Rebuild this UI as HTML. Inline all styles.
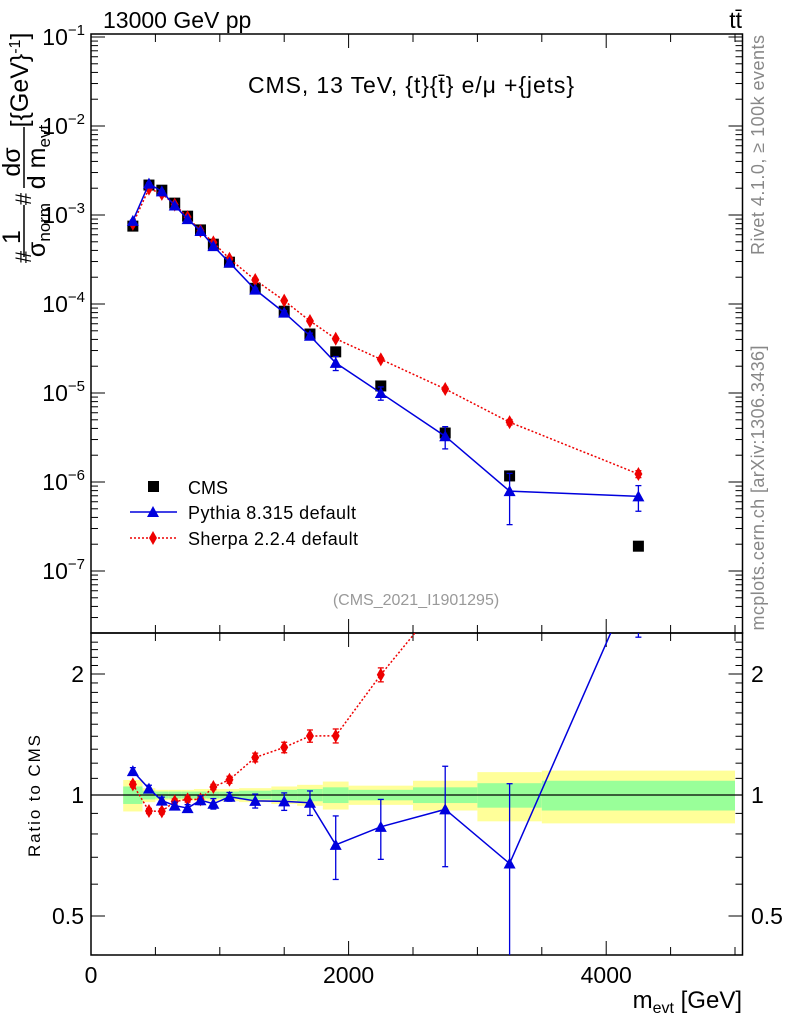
<!DOCTYPE html>
<html><head><meta charset="utf-8"><style>
html,body{margin:0;padding:0;background:#fff;}
svg{display:block;font-family:"Liberation Sans",sans-serif;}
</style></head><body>
<svg id="chart" width="786" height="1024" viewBox="0 0 786 1024" xmlns="http://www.w3.org/2000/svg">
<g id="bands"></g>
<g id="grid"></g>
<g id="series"></g>
<text x="103" y="28" font-size="23">13000 GeV pp</text>
<text x="742" y="28" font-size="23" text-anchor="end">tt̄</text>
<text x="411" y="93" font-size="23" text-anchor="middle" textLength="326">CMS, 13 TeV, {t}{t̄} e/μ +{jets}</text>
<text x="416" y="605" font-size="16" fill="#999" text-anchor="middle">(CMS_2021_I1901295)</text>
<text transform="translate(764,145) rotate(-90)" font-size="18" fill="#888" text-anchor="middle" textLength="220">Rivet 4.1.0, ≥ 100k events</text>
<text transform="translate(764,488) rotate(-90)" font-size="18" fill="#888" text-anchor="middle" textLength="285">mcplots.cern.ch [arXiv:1306.3436]</text>
<g id="ytitle"></g>
<g>
<g><rect x="148" y="481" width="11" height="11" fill="#000"/><text x="188" y="494" font-size="18">CMS</text></g>
<g><line x1="130" y1="512" x2="177" y2="512" stroke="#0000dd" stroke-width="1.5"/><polygon points="153,506 159,517 147,517" fill="#0000dd"/><text x="188" y="519" font-size="18" textLength="168">Pythia 8.315 default</text></g>
<g><line x1="130" y1="538" x2="177" y2="538" stroke="#ee0000" stroke-width="1.5" stroke-dasharray="2,2"/><polygon points="153,531 157,538 153,545 149,538" fill="#ee0000"/><text x="188" y="545" font-size="18" textLength="170">Sherpa 2.2.4 default</text></g>
</g>
<text transform="translate(40,796) rotate(-90)" font-size="17" text-anchor="middle" textLength="122">Ratio to CMS</text>
<text x="742" y="1008" font-size="24" text-anchor="end">m<tspan font-size="16" dy="5">evt</tspan><tspan dy="-5"> [GeV]</tspan></text>
</svg>
<script>
const binEdges=[250,400,500,600,700,800,900,1000,1150,1400,1600,1800,2000,2500,3000,3500,5000];
const cmsValues=[7.5e-4,2.17e-3,1.9e-3,1.36e-3,9.7e-4,6.8e-4,4.7e-4,2.95e-4,1.5e-4,8.3e-5,4.6e-5,2.9e-5,1.2e-5,3.55e-6,1.17e-6,1.9e-7];
const pythiaValues=[8.6e-4,2.25e-3,1.84e-3,1.28e-3,9.0e-4,6.6e-4,4.47e-4,2.92e-4,1.45e-4,8.0e-5,4.4e-5,2.18e-5,1.0e-5,3.27e-6,7.9e-7,6.9e-7];
const pythiaRelErr=[0.02,0.02,0.02,0.02,0.02,0.025,0.03,0.025,0.04,0.05,0.07,0.18,0.17,0.28,0.58,0.32];
const sherpaValues=[7.97e-4,1.98e-3,1.73e-3,1.31e-3,9.46e-4,6.63e-4,4.92e-4,3.22e-4,1.86e-4,1.09e-4,6.45e-5,4.07e-5,2.39e-5,1.11e-5,4.7e-6,1.23e-6];
const sherpaRelErr=[0.015,0.015,0.015,0.015,0.015,0.015,0.015,0.02,0.025,0.03,0.035,0.04,0.04,0.05,0.07,0.09];
const bandYellow=[0.09,0.04,0.03,0.03,0.03,0.035,0.035,0.035,0.04,0.05,0.06,0.08,0.055,0.085,0.14,0.15];
const bandGreen=[0.05,0.025,0.02,0.02,0.02,0.02,0.02,0.02,0.025,0.03,0.035,0.045,0.03,0.045,0.07,0.085];
const xTicks=[0,2000,4000];
const mainYTicks=[-1,-2,-3,-4,-5,-6,-7];
const ratioTicks=[0.5,1,2];

const NS="http://www.w3.org/2000/svg";
const L=91,R=742.5,T=34,MB=633,RB=955;
const xs=v=>L+v*0.1288;
const ym=v=>37+(-1-Math.log10(v))*89;
const yr=v=>795-Math.log2(v)*121;
function mk(tag,attrs,parent){const e=document.createElementNS(NS,tag);for(const k in attrs)e.setAttribute(k,attrs[k]);parent.appendChild(e);return e;}
const grid=document.getElementById('grid'),series=document.getElementById('series'),bands=document.getElementById('bands');

for(let i=0;i<bandYellow.length;i++){
  const x1=xs(binEdges[i]),x2=xs(binEdges[i+1]);
  const y=mk('rect',{x:x1,y:yr(1+bandYellow[i]),width:x2-x1,height:yr(1-bandYellow[i])-yr(1+bandYellow[i]),fill:'#ffff99'},bands);
  
  
  const g=mk('rect',{x:x1,y:yr(1+bandGreen[i]),width:x2-x1,height:yr(1-bandGreen[i])-yr(1+bandGreen[i]),fill:'#99ff99'},bands);
  
  
}
mk('rect',{x:L,y:T,width:R-L,height:MB-T,fill:'none',stroke:'#000','stroke-width':1.5},grid);
mk('rect',{x:L,y:MB,width:R-L,height:RB-MB,fill:'none',stroke:'#000','stroke-width':1.5},grid);
mk('line',{x1:L,y1:yr(1),x2:R,y2:yr(1),stroke:'#000','stroke-width':1.2},grid);
for(let v=0;v<=5000;v+=500){
  const big=v%2000===0, len=big?14:8, x=xs(v);
  for(const [a,d] of [[T,1],[MB,-1],[MB,1],[RB,-1]]) mk('line',{x1:x,y1:a,x2:x,y2:a+d*len,stroke:'#000'},grid);
}
xTicks.forEach(v=>{const t=mk('text',{x:xs(v),y:983,'font-size':23,'text-anchor':'middle'},grid);t.textContent=v;

});
for(let e=-8;e<=-1;e++){for(let m=1;m<10;m++){const v=m*Math.pow(10,e);const y=ym(v);if(y<T-0.5||y>MB)continue;
  const len=m===1?14:7;mk('line',{x1:L,y1:y,x2:L+len,y2:y,stroke:'#000'},grid);mk('line',{x1:R,y1:y,x2:R-len,y2:y,stroke:'#000'},grid);}}
mainYTicks.forEach(e=>{const t=mk('text',{x:85,y:ym(Math.pow(10,e))+8,'font-size':23,'text-anchor':'end'},grid);
t.innerHTML='10<tspan dy="-10" font-size="15">−'+(-e)+'</tspan>';

});
const rminor=[];for(let v=0.4;v<1;v+=0.1)rminor.push(v);for(let v=1;v<=2.5;v+=0.1)rminor.push(v);
rminor.forEach(v=>{const y=yr(v);if(y<MB||y>RB)return;const big=[0.5,1,2].some(q=>Math.abs(q-v)<1e-6);const len=big?14:7;
mk('line',{x1:L,y1:y,x2:L+len,y2:y,stroke:'#000'},grid);mk('line',{x1:R,y1:y,x2:R-len,y2:y,stroke:'#000'},grid);});
ratioTicks.forEach(v=>{for(const [x,a] of [[84,'end'],[751,'start']]){const t=mk('text',{x:x,y:yr(v)+8,'font-size':23,'text-anchor':a},grid);t.textContent=v;

}});

const centers=cmsValues.map((_,i)=>(binEdges[i]+binEdges[i+1])/2);
const defs=mk('defs',{},series);
const c1=mk('clipPath',{id:'cm'},defs);mk('rect',{x:L,y:T,width:R-L,height:MB-T},c1);
const c2=mk('clipPath',{id:'cr'},defs);mk('rect',{x:L,y:MB,width:R-L,height:RB-MB},c2);
const gm=mk('g',{'clip-path':'url(#cm)'},series),gr=mk('g',{'clip-path':'url(#cr)'},series);

function drawSeries(g,vals,errs,yf,color,dash,shape,name){
  const pts=vals.map((v,i)=>xs(centers[i])+','+yf(v)).join(' ');
  const pl=mk('polyline',{points:pts,fill:'none',stroke:color,'stroke-width':1.5},g);
  if(dash)pl.setAttribute('stroke-dasharray','2,2');
  
  
  vals.forEach((v,i)=>{const x=xs(centers[i]),y=yf(v);
    const e=mk('line',{x1:x,y1:yf(v*(1+errs[i])),x2:x,y2:yf(Math.max(v*(1-errs[i]),1e-12)),stroke:color,'stroke-width':1.3},g);
    if(dash)e.setAttribute('stroke-dasharray','2,1');
    
    
    for(const yy of [yf(v*(1+errs[i])),yf(Math.max(v*(1-errs[i]),1e-12))])mk('line',{x1:x-3,y1:yy,x2:x+3,y2:yy,stroke:color,'stroke-width':1.3},g);
    let p;
    if(shape==='tri')p=mk('polygon',{points:`${x},${y-6} ${x+6},${y+5} ${x-6},${y+5}`,fill:color},g);
    else p=mk('polygon',{points:`${x},${y-7} ${x+4},${y} ${x},${y+7} ${x-4},${y}`,fill:color},g);
    
    
  });
}
cmsValues.forEach((v,i)=>{const r=mk('rect',{x:xs(centers[i])-5.5,y:ym(v)-5.5,width:11,height:11,fill:'#000'},gm);

});
drawSeries(gm,sherpaValues,sherpaRelErr,ym,'#ee0000',true,'dia','sherpa');
drawSeries(gm,pythiaValues,pythiaRelErr,ym,'#0000dd',false,'tri','pythia');
drawSeries(gr,sherpaValues.map((v,i)=>v/cmsValues[i]),sherpaRelErr,yr,'#ee0000',true,'dia','sherpa-ratio');
drawSeries(gr,pythiaValues.map((v,i)=>v/cmsValues[i]),pythiaRelErr,yr,'#0000dd',false,'tri','pythia-ratio');

const yt=document.getElementById('ytitle');
function txt(x,y,s,fs,anchor){const t=mk('text',{transform:`translate(${x},${y}) rotate(-90)`,'font-size':fs,'text-anchor':anchor||'middle'},yt);t.innerHTML=s;return t;}
txt(31,257,'#',22);
txt(20,237,'1',25);
mk('line',{x1:24,y1:205,x2:24,y2:257,stroke:'#000','stroke-width':1.5},yt);
txt(45,230,'σ<tspan font-size="17" dy="5">norm</tspan>',25);
txt(31,199,'#',22);
txt(20,162,'dσ',25);
mk('line',{x1:24,y1:127,x2:24,y2:188,stroke:'#000','stroke-width':1.5},yt);
txt(45,157,'d m<tspan font-size="17" dy="5">evt</tspan>',25);
txt(28,80,'[{GeV}<tspan font-size="16" dy="-8">-1</tspan><tspan dy="8">]</tspan>',25);
</script>
</body></html>
